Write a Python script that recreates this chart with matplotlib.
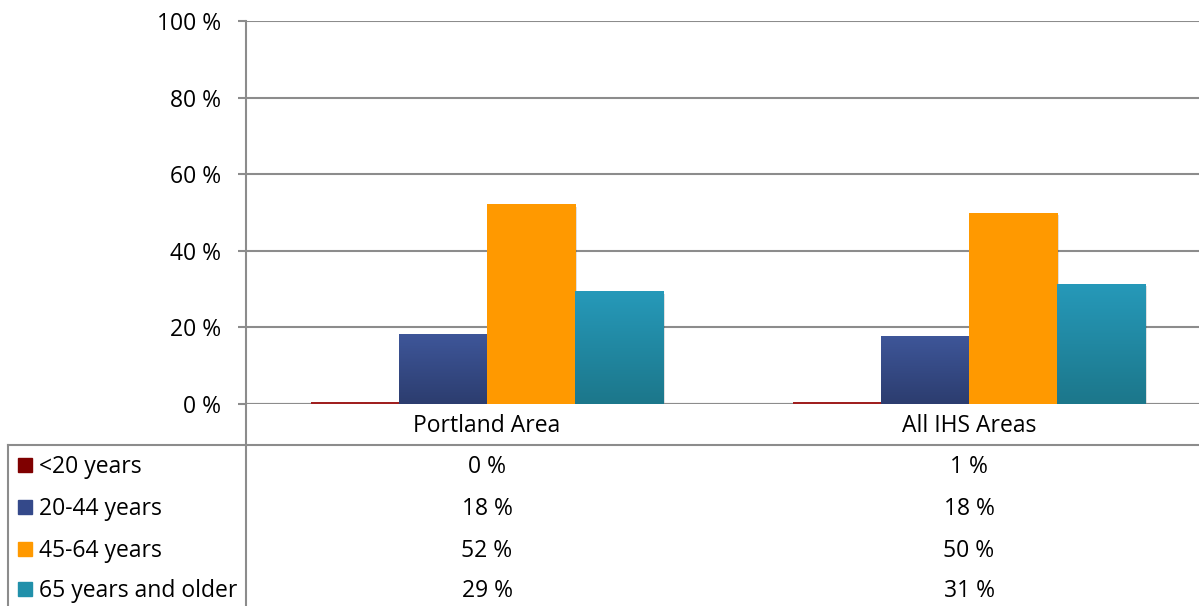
import numpy as np
import matplotlib.pyplot as plt
import matplotlib.colors as mcolors
from matplotlib.lines import Line2D
from matplotlib.patches import Rectangle
from matplotlib.transforms import blended_transform_factory

plt.rcParams['font.family'] = ['Open Sans', 'DejaVu Sans']

categories = ['Portland Area', 'All IHS Areas']
series = ['<20 years', '20-44 years', '45-64 years', '65 years and older']
under20 = [0.4, 0.6]
age20_44 = [18.2, 17.8]
age45_64 = [52.1, 50.0]
age65plus = [29.4, 31.4]
values = [under20, age20_44, age45_64, age65plus]
yticks = [0, 20, 40, 60, 80, 100]

# top / bottom colours for the vertical gradient on each series
grad = [('#a02020', '#a02020'), ('#3e5699', '#2c3d6f'),
        ('#ff9900', '#ff9900'), ('#2699b9', '#1c778b')]
key_cols = ['#7f0000', '#34498a', '#ff9900', '#2190aa']

W, H = 1199, 606
FS = 16.5
fig = plt.figure(figsize=(W / 100, H / 100), dpi=100)
ax = fig.add_axes([246 / W, 1 - 404 / H, (1210 - 246) / W, (404 - 21) / H])

x = np.arange(len(categories))
bw = 0.1826
grid_c = '#8c8c8c'

for i, (vals, (ctop, cbot)) in enumerate(zip(values, grad)):
    offs = (i - 1.5) * bw
    for xi, v in zip(x, vals):
        x0 = xi + offs - bw / 2
        if v > 2:
            # soft shadow
            ax.add_patch(Rectangle((x0 + 0.004, -0.6), bw, v, color='#000000',
                                   alpha=0.12, lw=0, zorder=2))
        rect = Rectangle((x0, 0), bw, v, lw=0, facecolor='none', zorder=3)
        ax.add_patch(rect)
        cmap = mcolors.LinearSegmentedColormap.from_list('g', [cbot, ctop])
        img = ax.imshow(np.linspace(0, 1, 64).reshape(-1, 1), cmap=cmap,
                        extent=[x0, x0 + bw, 0, v], origin='lower',
                        aspect='auto', zorder=3, interpolation='bilinear')
        img.set_clip_path(rect)

ax.set_xlim(-0.5, 1.5)
ax.set_ylim(0, 100)
ax.set_yticks(yticks)
ax.set_yticklabels([f'{t} %' for t in yticks], fontsize=FS)
ax.set_xticks([])
ax.yaxis.grid(True, color=grid_c, lw=1.5)
ax.set_axisbelow(True)
for s in ['top', 'right', 'bottom']:
    ax.spines[s].set_visible(False)
ax.spines['left'].set_color(grid_c)
ax.spines['left'].set_linewidth(1.5)
ax.tick_params(axis='y', length=6, width=1.5, color=grid_c, pad=12)
ax.axhline(0, color=grid_c, lw=1.5, zorder=2.5)

tr = blended_transform_factory(ax.transData, fig.transFigure)


def fy(py):
    return 1 - py / H


# category labels below axis
for xi, c in zip(x, categories):
    ax.text(xi, fy(426), c, transform=tr, ha='center', va='center', fontsize=FS)

# data table
fig.add_artist(Line2D([8 / W, 1], [fy(445), fy(445)], color=grid_c, lw=1.5))
fig.add_artist(Line2D([8 / W, 8 / W], [fy(445), 0], color=grid_c, lw=1.5))
fig.add_artist(Line2D([246 / W, 246 / W], [fy(404), 0], color=grid_c, lw=1.5))

row_y = [467, 509, 551, 591]
for name, vals, kc, ry in zip(series, values, key_cols, row_y):
    fig.add_artist(Rectangle((18 / W, fy(ry + 5)), 14 / W, 14 / H,
                             transform=fig.transFigure, color=kc))
    fig.text(39 / W, fy(ry), name, ha='left', va='center', fontsize=FS)
    for xi, v in zip(x, vals):
        ax.text(xi, fy(ry), f'{int(round(v))} %', transform=tr,
                ha='center', va='center', fontsize=FS)

fig.savefig('out.png', dpi=100)
